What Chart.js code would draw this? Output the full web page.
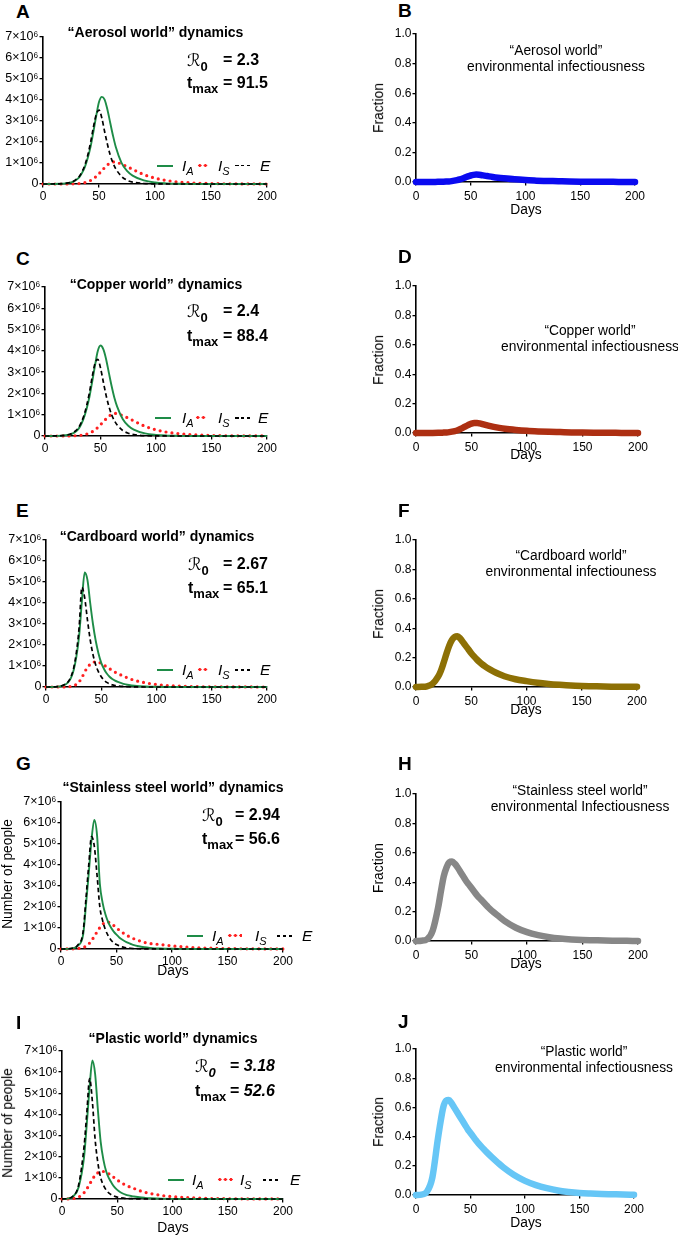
<!DOCTYPE html>
<html lang="en">
<head>
<meta charset="UTF-8">
<title>Environmental infectiousness worlds</title>
<style>
  body { margin: 0; background: #fff; }
  #page { position: relative; width: 678px; height: 1237px; overflow: hidden;
          font-family: "Liberation Sans", Arial, Helvetica, sans-serif; color: #000; }
  canvas { position: absolute; }
  .tx { position: absolute; line-height: 1; white-space: nowrap; }
  .b { font-weight: bold; }
  .it { font-style: italic; }
  .scr { font-family: "DejaVu Serif", "DejaVu Sans", serif; font-weight: normal; font-size: 17px; }
  .sb { position: relative; top: 5px; font-size: 13px; }
  .ls { position: relative; top: 4px; font-size: 11px; }
  .mk { position: absolute; }
</style>
<script src="https://cdn.jsdelivr.net/npm/chart.js"></script>
</head>
<body>
<div id="page"></div>
<script>
    // shared time grid (days)
    const days = [0, 5, 10, 15, 20, 22.5, 25, 27.5, 30, 32.5, 35, 37.5, 40, 42.5, 45, 47.5, 50, 52.5, 55, 57.5,
        60, 62.5, 65, 70, 75, 80, 90, 100, 110, 120, 130, 140, 150, 160, 170, 180, 190, 200];

    // people, in millions (I_A, I_S, E)
    const aerosolIA = [0, 0, 0.002, 0.01, 0.03, 0.05, 0.08, 0.12, 0.21, 0.33, 0.54, 0.83, 1.25, 1.78, 2.49, 3.24, 3.9, 4.15, 4.02, 3.55,
        2.92, 2.3, 1.76, 1.02, 0.62, 0.4, 0.17, 0.07, 0.03, 0.012, 0.005, 0.002, 0, 0, 0, 0, 0, 0];
    const aerosolIS = [0, 0, 0, 0, 0.002, 0.003, 0.005, 0.008, 0.012, 0.02, 0.04, 0.07, 0.11, 0.17, 0.25, 0.36, 0.49, 0.63, 0.78, 0.91,
        1.0, 1.05, 1.04, 0.95, 0.83, 0.7, 0.45, 0.28, 0.17, 0.1, 0.06, 0.035, 0.02, 0.012, 0.007, 0.004, 0.002, 0.001];
    const aerosolE = [0, 0, 0.002, 0.01, 0.03, 0.05, 0.09, 0.14, 0.24, 0.37, 0.6, 0.92, 1.38, 1.98, 2.7, 3.3, 3.52, 3.15, 2.5, 1.9,
        1.38, 1.0, 0.72, 0.37, 0.18, 0.09, 0.025, 0.007, 0.002, 0, 0, 0, 0, 0, 0, 0, 0, 0];

    const copperIA = [0, 0.001, 0.005, 0.015, 0.05, 0.07, 0.12, 0.2, 0.32, 0.54, 0.85, 1.28, 1.83, 2.55, 3.3, 3.98, 4.25, 4.08, 3.62, 2.98,
        2.35, 1.8, 1.38, 0.8, 0.48, 0.3, 0.12, 0.05, 0.02, 0.008, 0.003, 0.001, 0, 0, 0, 0, 0, 0];
    const copperIS = [0, 0, 0, 0.001, 0.003, 0.005, 0.008, 0.012, 0.02, 0.035, 0.06, 0.09, 0.14, 0.2, 0.29, 0.4, 0.53, 0.67, 0.8, 0.92,
        1.01, 1.06, 1.05, 0.96, 0.84, 0.71, 0.46, 0.29, 0.18, 0.11, 0.065, 0.04, 0.024, 0.014, 0.008, 0.005, 0.003, 0.002];
    const copperE = [0, 0.001, 0.005, 0.016, 0.05, 0.08, 0.14, 0.24, 0.38, 0.62, 0.95, 1.42, 2.03, 2.77, 3.4, 3.6, 3.2, 2.55, 1.92, 1.4,
        1.0, 0.72, 0.52, 0.26, 0.13, 0.065, 0.016, 0.004, 0.001, 0, 0, 0, 0, 0, 0, 0, 0, 0];

    const cardboardIA = [0, 0.003, 0.015, 0.06, 0.22, 0.42, 0.8, 1.45, 2.45, 4.1, 5.45, 5.1, 4.0, 3.0, 2.2, 1.6, 1.15, 0.86, 0.64, 0.49,
        0.38, 0.3, 0.24, 0.15, 0.095, 0.06, 0.024, 0.009, 0.003, 0.001, 0, 0, 0, 0, 0, 0, 0, 0];
    const cardboardIS = [0, 0, 0.001, 0.004, 0.01, 0.025, 0.06, 0.13, 0.25, 0.45, 0.72, 0.93, 1.08, 1.17, 1.2, 1.18, 1.12, 1.04, 0.95, 0.87,
        0.79, 0.71, 0.64, 0.52, 0.41, 0.32, 0.2, 0.12, 0.07, 0.04, 0.024, 0.014, 0.008, 0.005, 0.003, 0.002, 0.001, 0];
    const cardboardE = [0, 0.003, 0.016, 0.07, 0.25, 0.48, 0.9, 1.65, 2.85, 4.75, 4.25, 3.2, 2.25, 1.55, 1.05, 0.72, 0.49, 0.33, 0.22, 0.15,
        0.1, 0.07, 0.05, 0.025, 0.012, 0.006, 0.001, 0, 0, 0, 0, 0, 0, 0, 0, 0, 0, 0];

    const steelIA = [0, 0.005, 0.03, 0.15, 0.7, 2.1, 3.6, 5.2, 6.15, 5.4, 3.1, 2.2, 1.65, 1.28, 1.02, 0.83, 0.68, 0.55, 0.45, 0.37,
        0.3, 0.25, 0.2, 0.13, 0.085, 0.055, 0.022, 0.009, 0.004, 0.001, 0, 0, 0, 0, 0, 0, 0, 0];
    const steelIS = [0, 0.002, 0.006, 0.02, 0.07, 0.13, 0.24, 0.4, 0.6, 0.82, 1.02, 1.18, 1.27, 1.28, 1.22, 1.12, 1.0, 0.9, 0.8, 0.71,
        0.63, 0.56, 0.5, 0.4, 0.32, 0.26, 0.21, 0.15, 0.1, 0.068, 0.046, 0.03, 0.02, 0.013, 0.009, 0.006, 0.004, 0.003];
    const steelE = [0, 0.006, 0.035, 0.18, 0.85, 2.4, 4.0, 5.35, 4.9, 3.5, 2.0, 1.35, 0.92, 0.63, 0.43, 0.3, 0.21, 0.15, 0.1, 0.07,
        0.05, 0.035, 0.025, 0.012, 0.006, 0.003, 0.001, 0, 0, 0, 0, 0, 0, 0, 0, 0, 0, 0];

    const plasticIA = [0, 0.02, 0.12, 0.55, 2.0, 3.6, 5.3, 6.55, 5.9, 4.2, 2.7, 1.85, 1.3, 0.98, 0.75, 0.56, 0.43, 0.33, 0.26, 0.21,
        0.17, 0.14, 0.12, 0.08, 0.055, 0.037, 0.016, 0.007, 0.003, 0.001, 0, 0, 0, 0, 0, 0, 0, 0];
    const plasticIS = [0, 0.003, 0.02, 0.09, 0.3, 0.48, 0.7, 0.93, 1.12, 1.24, 1.3, 1.3, 1.26, 1.19, 1.1, 1.0, 0.9, 0.81, 0.73, 0.66,
        0.6, 0.55, 0.5, 0.4, 0.32, 0.26, 0.17, 0.11, 0.072, 0.047, 0.03, 0.02, 0.013, 0.008, 0.005, 0.003, 0.002, 0.001];
    const plasticE = [0, 0.02, 0.14, 0.65, 2.5, 4.1, 5.7, 4.6, 2.8, 1.7, 1.0, 0.65, 0.42, 0.28, 0.19, 0.13, 0.09, 0.06, 0.045, 0.03,
        0.02, 0.015, 0.01, 0.005, 0.002, 0.001, 0, 0, 0, 0, 0, 0, 0, 0, 0, 0, 0, 0];

    // environmental infectiousness (fraction)
    const aerosolEnv = [0, 0, 0, 0, 0.001, 0.001, 0.002, 0.003, 0.004, 0.006, 0.009, 0.013, 0.018, 0.024, 0.031, 0.038, 0.044, 0.048, 0.05, 0.049,
        0.046, 0.043, 0.04, 0.034, 0.029, 0.025, 0.018, 0.013, 0.009, 0.007, 0.005, 0.003, 0.002, 0.002, 0.001, 0.001, 0, 0];
    const copperEnv = [0, 0, 0, 0, 0.001, 0.002, 0.003, 0.004, 0.006, 0.009, 0.013, 0.019, 0.027, 0.036, 0.046, 0.056, 0.064, 0.068, 0.068, 0.065,
        0.06, 0.055, 0.05, 0.042, 0.035, 0.029, 0.021, 0.015, 0.011, 0.008, 0.006, 0.004, 0.003, 0.002, 0.001, 0.001, 0, 0];
    const cardboardEnv = [0, 0.001, 0.005, 0.022, 0.07, 0.11, 0.165, 0.225, 0.28, 0.32, 0.34, 0.345, 0.33, 0.305, 0.28, 0.255, 0.23, 0.208, 0.188, 0.17,
        0.154, 0.14, 0.127, 0.106, 0.088, 0.073, 0.053, 0.04, 0.029, 0.021, 0.015, 0.01, 0.007, 0.005, 0.003, 0.002, 0.001, 0.001];
    const steelEnv = [0, 0.002, 0.012, 0.07, 0.23, 0.34, 0.44, 0.5, 0.535, 0.54, 0.525, 0.5, 0.47, 0.44, 0.41, 0.385, 0.36, 0.335, 0.31, 0.29,
        0.27, 0.25, 0.23, 0.195, 0.165, 0.135, 0.09, 0.06, 0.04, 0.026, 0.017, 0.011, 0.007, 0.005, 0.003, 0.002, 0.001, 0];
    const plasticEnv = [0, 0.003, 0.022, 0.12, 0.38, 0.5, 0.6, 0.645, 0.65, 0.63, 0.6, 0.57, 0.54, 0.51, 0.48, 0.45, 0.425, 0.4, 0.375, 0.352,
        0.331, 0.311, 0.292, 0.256, 0.222, 0.19, 0.137, 0.097, 0.068, 0.047, 0.031, 0.021, 0.014, 0.01, 0.007, 0.005, 0.003, 0.002];

    const dayTicks = [0, 50, 100, 150, 200];
    const peopleTicks = [0, 1, 2, 3, 4, 5, 6, 7];
    const fractionTicks = [0, 0.2, 0.4, 0.6, 0.8, 1.0];

    const GREEN = '#1e8c47';
    const RED = '#ff2020';

    const page = document.getElementById('page');

    Chart.defaults.font.family = '"Liberation Sans", Arial, Helvetica, sans-serif';
    Chart.defaults.font.size = 12;
    Chart.defaults.color = '#000';

    const pts = (vals) => days.map((d, i) => ({ x: d, y: vals[i] }));

    // text placed by its baseline
    function text(html, x, base, size, cls, center) {
        const d = document.createElement('div');
        d.className = 'tx ' + (cls || '');
        d.innerHTML = html;
        d.style.fontSize = size + 'px';
        d.style.left = x + 'px';
        d.style.top = (base - 0.8465 * size) + 'px';
        if (center) d.style.transform = 'translateX(-50%)';
        page.appendChild(d);
        return d;
    }

    // rotated axis title, centred on (cx, cy)
    function vtext(str, cx, cy, size) {
        const d = document.createElement('div');
        d.className = 'tx';
        d.textContent = str;
        d.style.fontSize = size + 'px';
        d.style.left = cx + 'px';
        d.style.top = cy + 'px';
        d.style.transform = 'translate(-50%,-50%) rotate(-90deg)';
        page.appendChild(d);
    }

    function mark(x, y, w, h, bg) {
        const d = document.createElement('div');
        d.className = 'mk';
        d.style.left = x + 'px';
        d.style.top = y + 'px';
        d.style.width = w + 'px';
        d.style.height = h + 'px';
        d.style.background = bg;
        page.appendChild(d);
    }

    // legend row: green line, I_A, red dots, I_S, black dashes, E
    function legend(gx, gy, off) {
        mark(gx, gy - 1, 16, 2, GREEN);
        text('I<span class="ls">A</span>', gx + off[0], gy + 5.5, 15.5, 'it');
        mark(gx + off[1], gy - 1.6, off[2], 3.2,
            'radial-gradient(circle, ' + RED + ' 1.4px, transparent 1.8px) 0 0 / 5.6px 3.2px repeat-x');
        text('I<span class="ls">S</span>', gx + off[3], gy + 5.5, 15.5, 'it');
        mark(gx + off[4], gy - 0.8, 15, 1.6, 'repeating-linear-gradient(90deg, #000 0 3.5px, transparent 3.5px 5.8px)');
        text('E', gx + off[5], gy + 5.5, 15.5, 'it');
    }

    function annotate(x0, xEq, b1, b2, r0, tmax, italic) {
        const v1 = italic ? '<i>' + r0 + '</i>' : r0;
        const v2 = italic ? '<i>' + tmax + '</i>' : tmax;
        text('<span class="scr">ℛ</span><span class="sb">' + (italic ? '<i>0</i>' : '0') + '</span>', x0, b1, 16, 'b');
        text('= ' + v1, xEq, b1, 16, 'b');
        text('t<span class="sb">max</span>', x0, b2, 16, 'b');
        text('= ' + v2, xEq, b2, 16, 'b');
    }

    function addChart(area, colLeft, yTicks, yFmt, yFont, datasets, xLabelPad) {
        const padTop = 10, padRight = 14, axisH = 30;
        const yW = area.l - colLeft;
        const c = document.createElement('canvas');
        const w = Math.round(area.r + padRight - colLeft);
        const h = Math.round(area.b - area.t + padTop + axisH);
        c.width = w;
        c.height = h;
        c.style.left = colLeft + 'px';
        c.style.top = (area.t - padTop) + 'px';
        page.appendChild(c);

        const grid = { drawOnChartArea: false, drawTicks: true, tickLength: 3.5, color: '#000', lineWidth: 1.3 };
        const border = { color: '#000', width: 1.6 };

        return new Chart(c.getContext('2d'), {
            type: 'line',
            data: { datasets: datasets },
            options: {
                responsive: false,
                devicePixelRatio: 1,
                animation: false,
                events: [],
                layout: { padding: { top: padTop, right: padRight, left: 0, bottom: 0 } },
                plugins: { legend: { display: false }, tooltip: { enabled: false } },
                elements: { point: { radius: 0 }, line: { cubicInterpolationMode: 'monotone' } },
                scales: {
                    x: {
                        type: 'linear', min: 0, max: 200,
                        afterBuildTicks: s => { s.ticks = dayTicks.map(v => ({ value: v })); },
                        ticks: { autoSkip: false, maxRotation: 0, padding: xLabelPad, font: { size: 12 }, color: '#000' },
                        grid: grid, border: border,
                        afterFit: s => { s.height = axisH; s.paddingLeft = 0; s.paddingRight = 0; }
                    },
                    y: {
                        type: 'linear', min: 0, max: yTicks[yTicks.length - 1],
                        afterBuildTicks: s => { s.ticks = yTicks.map(v => ({ value: v })); },
                        ticks: { autoSkip: false, padding: 1, callback: yFmt, font: { size: yFont }, color: '#000' },
                        grid: grid, border: border,
                        afterFit: s => { s.width = yW; s.paddingTop = 0; s.paddingBottom = 0; }
                    }
                }
            }
        });
    }

    function dynamicsSets(ia, is, e) {
        return [
            { data: pts(e), borderColor: '#000', borderWidth: 1.7, borderDash: [4.5, 3], order: 0, clip: false },
            { data: pts(ia), borderColor: GREEN, borderWidth: 1.9, order: 1, clip: false },
            { data: pts(is), borderColor: RED, borderWidth: 3.2, borderDash: [0, 6], borderCapStyle: 'round', order: 2, clip: false }
        ];
    }

    function envSet(vals, color) {
        return [{ data: pts(vals), borderColor: color, borderWidth: 6.5, borderCapStyle: 'round',
            borderJoinStyle: 'round', clip: false }];
    }

    const peopleFmt = v => v === 0 ? '0' : v + '×10⁶';
    const fracFmt = v => v.toFixed(1);

    // ---- left column: dynamics ----
    const dyn = [
        { letter: 'A', lb: 18, area: { l: 43, r: 267, t: 37, b: 184 }, title: '“Aerosol world” dynamics', tx: 155.5, tb: 37,
          ia: aerosolIA, is: aerosolIS, e: aerosolE, r0: '2.3', tmax: '91.5', ax: 187, eq: 223, b1: 66, b2: 89,
          lg: [157, 165.5, [25, 40, 11, 61, 78, 103]] },
        { letter: 'C', lb: 265, area: { l: 45, r: 267, t: 287, b: 436 }, title: '“Copper world” dynamics', tx: 156, tb: 289,
          ia: copperIA, is: copperIS, e: copperE, r0: '2.4', tmax: '88.4', ax: 187, eq: 223, b1: 317, b2: 342,
          lg: [155, 418, [27, 40, 12, 63, 80, 103]] },
        { letter: 'E', lb: 517, area: { l: 46, r: 267, t: 540, b: 687 }, title: '“Cardboard world” dynamics', tx: 157, tb: 541,
          ia: cardboardIA, is: cardboardIS, e: cardboardE, r0: '2.67', tmax: '65.1', ax: 188, eq: 223, b1: 570, b2: 594,
          lg: [157, 670, [25, 40, 11, 61, 78, 103]] },
        { letter: 'G', lb: 770, area: { l: 61, r: 283, t: 802, b: 949 }, title: '“Stainless steel world” dynamics', tx: 173, tb: 792,
          ia: steelIA, is: steelIS, e: steelE, r0: '2.94', tmax: '56.6', ax: 202, eq: 235, b1: 821, b2: 845,
          lg: [187, 936, [25, 40, 15, 68, 90, 115]], ytitle: true, days: 976 },
        { letter: 'I', lb: 1029, area: { l: 62, r: 283, t: 1051, b: 1199 }, title: '“Plastic world” dynamics', tx: 173, tb: 1043,
          ia: plasticIA, is: plasticIS, e: plasticE, r0: '3.18', tmax: '52.6', ax: 195, eq: 230, b1: 1072, b2: 1097,
          lg: [168, 1180, [24, 49, 16, 72, 95, 122]], ytitle: true, days: 1233, italic: true }
    ];

    dyn.forEach(p => {
        addChart(p.area, 0, peopleTicks, peopleFmt, 12.5, dynamicsSets(p.ia, p.is, p.e), 2);
        text(p.letter, 16, p.lb, 19, 'b');
        text(p.title, p.tx, p.tb, 14, 'b', true);
        annotate(p.ax, p.eq, p.b1, p.b2, p.r0, p.tmax, p.italic);
        legend(p.lg[0], p.lg[1], p.lg[2]);
        if (p.ytitle) vtext('Number of people', 8, (p.area.t + p.area.b) / 2 - 2, 13.8);
        if (p.days) text('Days', 173, p.days, 13.8, '', true);
    });

    // ---- right column: environmental infectiousness ----
    const env = [
        { letter: 'B', lb: 17, area: { l: 416, r: 635, t: 34, b: 182 }, vals: aerosolEnv, color: '#0a0af0',
          l1: '“Aerosol world”', l2: 'environmental infectiousness', cx: 556, b1: 56, days: 215 },
        { letter: 'D', lb: 263, area: { l: 416, r: 638, t: 286, b: 433 }, vals: copperEnv, color: '#ad2f12',
          l1: '“Copper world”', l2: 'environmental infectiousness', cx: 590, b1: 336, days: 460 },
        { letter: 'F', lb: 517, area: { l: 416, r: 637, t: 540, b: 687 }, vals: cardboardEnv, color: '#8d7005',
          l1: '“Cardboard world”', l2: 'environmental infectiouness', cx: 571, b1: 561, days: 715 },
        { letter: 'H', lb: 770, area: { l: 416, r: 638, t: 794, b: 941 }, vals: steelEnv, color: '#878787',
          l1: '“Stainless steel world”', l2: 'environmental Infectiousness', cx: 580, b1: 796, days: 969 },
        { letter: 'J', lb: 1028, area: { l: 416, r: 634, t: 1049, b: 1195 }, vals: plasticEnv, color: '#66c6f6',
          l1: '“Plastic world”', l2: 'environmental infectiousness', cx: 584, b1: 1057, days: 1228 }
    ];

    env.forEach(p => {
        addChart(p.area, 340, fractionTicks, fracFmt, 12, envSet(p.vals, p.color), 4);
        text(p.letter, 398, p.lb, 19, 'b');
        text(p.l1, p.cx, p.b1, 13.8, '', true);
        text(p.l2, p.cx, p.b1 + 16, 13.8, '', true);
        vtext('Fraction', 379, (p.area.t + p.area.b) / 2, 13.8);
        text('Days', 526, p.days, 13.8, '', true);
    });
</script>
</body>
</html>
